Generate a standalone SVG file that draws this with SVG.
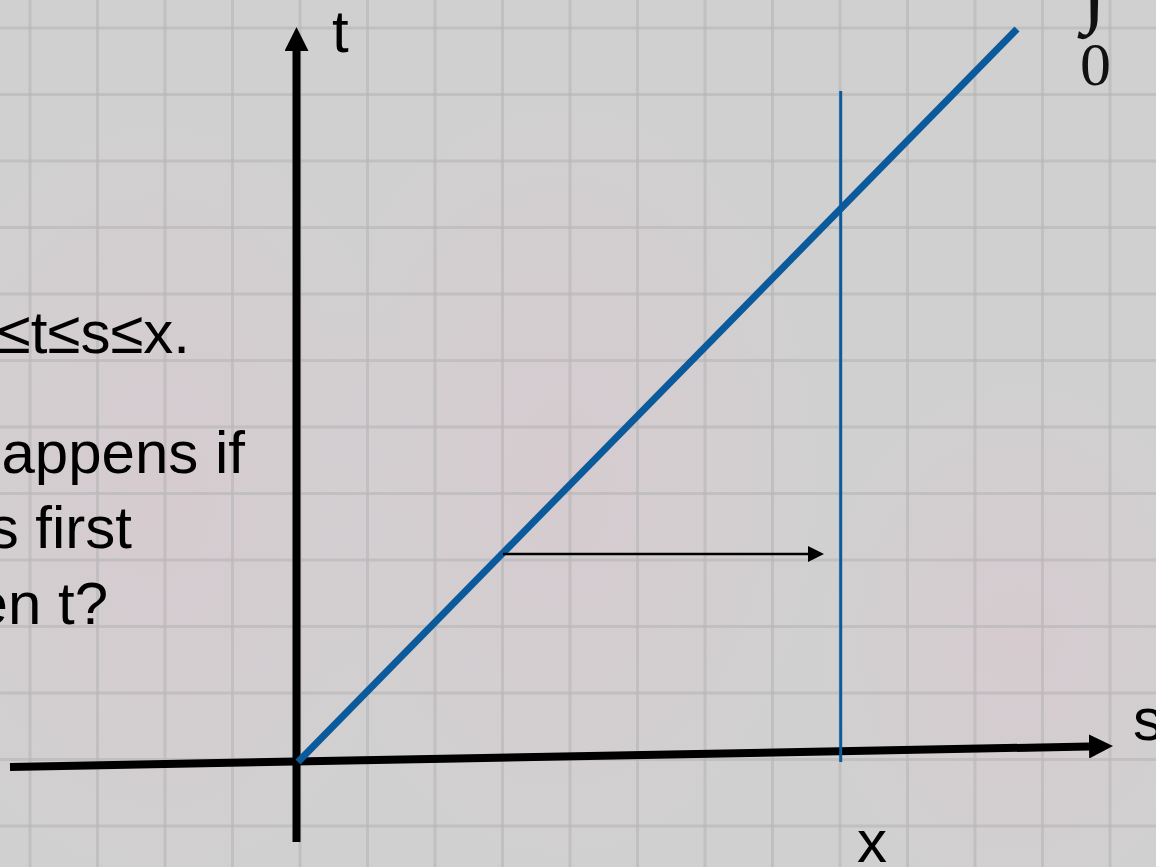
<svg xmlns="http://www.w3.org/2000/svg" width="1156" height="867" viewBox="0 0 1156 867">
  <defs>
    <style>
      .grid line { stroke: #b9b8b9; stroke-width: 3; opacity: 0.65; }
      .axis { stroke: #000; stroke-width: 8; fill: none; }
      .blue { stroke: #0b5a9c; fill: none; }
      .lbl { font-family: "Liberation Sans", Arial, sans-serif; font-size: 60px; fill: #000; }
      .math { font-family: "Liberation Serif", "DejaVu Serif", serif; fill: #111; }
    </style>
    <marker id="axisHead" markerUnits="userSpaceOnUse" viewBox="0 0 24 24" markerWidth="24" markerHeight="24" refX="0" refY="12" orient="auto">
      <path d="M0,0 L24,12 L0,24 z" fill="#000"/>
    </marker>
    <marker id="smallHead" markerUnits="userSpaceOnUse" viewBox="0 0 16 16" markerWidth="16" markerHeight="16" refX="0" refY="8" orient="auto">
      <path d="M0,0 L16,8 L0,16 z" fill="#000"/>
    </marker>
    <radialGradient id="pinkA" cx="0.5" cy="0.5" r="0.5">
      <stop offset="0" stop-color="#d9c8cf" stop-opacity="0.6"/>
      <stop offset="1" stop-color="#d9c8cf" stop-opacity="0"/>
    </radialGradient>
  </defs>

  <g id="paper">
    <rect x="0" y="0" width="1156" height="867" fill="#d1d0d1"/>
    <ellipse cx="160" cy="500" rx="260" ry="380" fill="url(#pinkA)"/>
    <ellipse cx="560" cy="480" rx="260" ry="380" fill="url(#pinkA)"/>
    <ellipse cx="1020" cy="640" rx="200" ry="260" fill="url(#pinkA)"/>
    <g class="grid">
      <line x1="30" y1="0" x2="30" y2="867"/>
      <line x1="97.5" y1="0" x2="97.5" y2="867"/>
      <line x1="165" y1="0" x2="165" y2="867"/>
      <line x1="232.5" y1="0" x2="232.5" y2="867"/>
      <line x1="300" y1="0" x2="300" y2="867"/>
      <line x1="367.5" y1="0" x2="367.5" y2="867"/>
      <line x1="435" y1="0" x2="435" y2="867"/>
      <line x1="502.5" y1="0" x2="502.5" y2="867"/>
      <line x1="570" y1="0" x2="570" y2="867"/>
      <line x1="637.5" y1="0" x2="637.5" y2="867"/>
      <line x1="705" y1="0" x2="705" y2="867"/>
      <line x1="772.5" y1="0" x2="772.5" y2="867"/>
      <line x1="840" y1="0" x2="840" y2="867"/>
      <line x1="907.5" y1="0" x2="907.5" y2="867"/>
      <line x1="975" y1="0" x2="975" y2="867"/>
      <line x1="1042.5" y1="0" x2="1042.5" y2="867"/>
      <line x1="1110" y1="0" x2="1110" y2="867"/>
      <line x1="0" y1="28" x2="1156" y2="28"/>
      <line x1="0" y1="94.5" x2="1156" y2="94.5"/>
      <line x1="0" y1="161" x2="1156" y2="161"/>
      <line x1="0" y1="227.5" x2="1156" y2="227.5"/>
      <line x1="0" y1="294" x2="1156" y2="294"/>
      <line x1="0" y1="360.5" x2="1156" y2="360.5"/>
      <line x1="0" y1="427" x2="1156" y2="427"/>
      <line x1="0" y1="493.5" x2="1156" y2="493.5"/>
      <line x1="0" y1="560" x2="1156" y2="560"/>
      <line x1="0" y1="626.5" x2="1156" y2="626.5"/>
      <line x1="0" y1="693" x2="1156" y2="693"/>
      <line x1="0" y1="759.5" x2="1156" y2="759.5"/>
      <line x1="0" y1="826" x2="1156" y2="826"/>
    </g>
  </g>

  <g id="left-text" class="lbl">
    <text x="190" y="353" text-anchor="end">≤t≤s≤x.</text>
    <text x="245" y="473" text-anchor="end">appens if</text>
    <text x="132" y="548" text-anchor="end">s first</text>
    <text x="108" y="624" text-anchor="end">en t?</text>
  </g>

  <g id="t-axis">
    <line class="axis" x1="296.5" y1="842" x2="296.5" y2="51" marker-end="url(#axisHead)"/>
    <text class="lbl" x="332" y="52">t</text>
  </g>

  <g id="s-axis">
    <line class="axis" x1="10" y1="767" x2="1089" y2="746.5" marker-end="url(#axisHead)"/>
    <text class="lbl" x="1133" y="740">s</text>
  </g>

  <g id="diagonal">
    <line class="blue" x1="298" y1="762" x2="1017" y2="29" stroke-width="7"/>
  </g>

  <g id="x-line">
    <line class="blue" x1="840.7" y1="91" x2="840.7" y2="762" stroke-width="3"/>
    <text class="lbl" x="857" y="862">x</text>
  </g>

  <g id="integral">
    <text class="math" x="1082" y="15" font-size="90">∫</text>
    <text class="math" x="1080" y="85" font-size="62">0</text>
  </g>

  <g id="connectors">
    <line x1="503" y1="554" x2="808" y2="554" stroke="#000" stroke-width="2.5" marker-end="url(#smallHead)"/>
  </g>
</svg>
